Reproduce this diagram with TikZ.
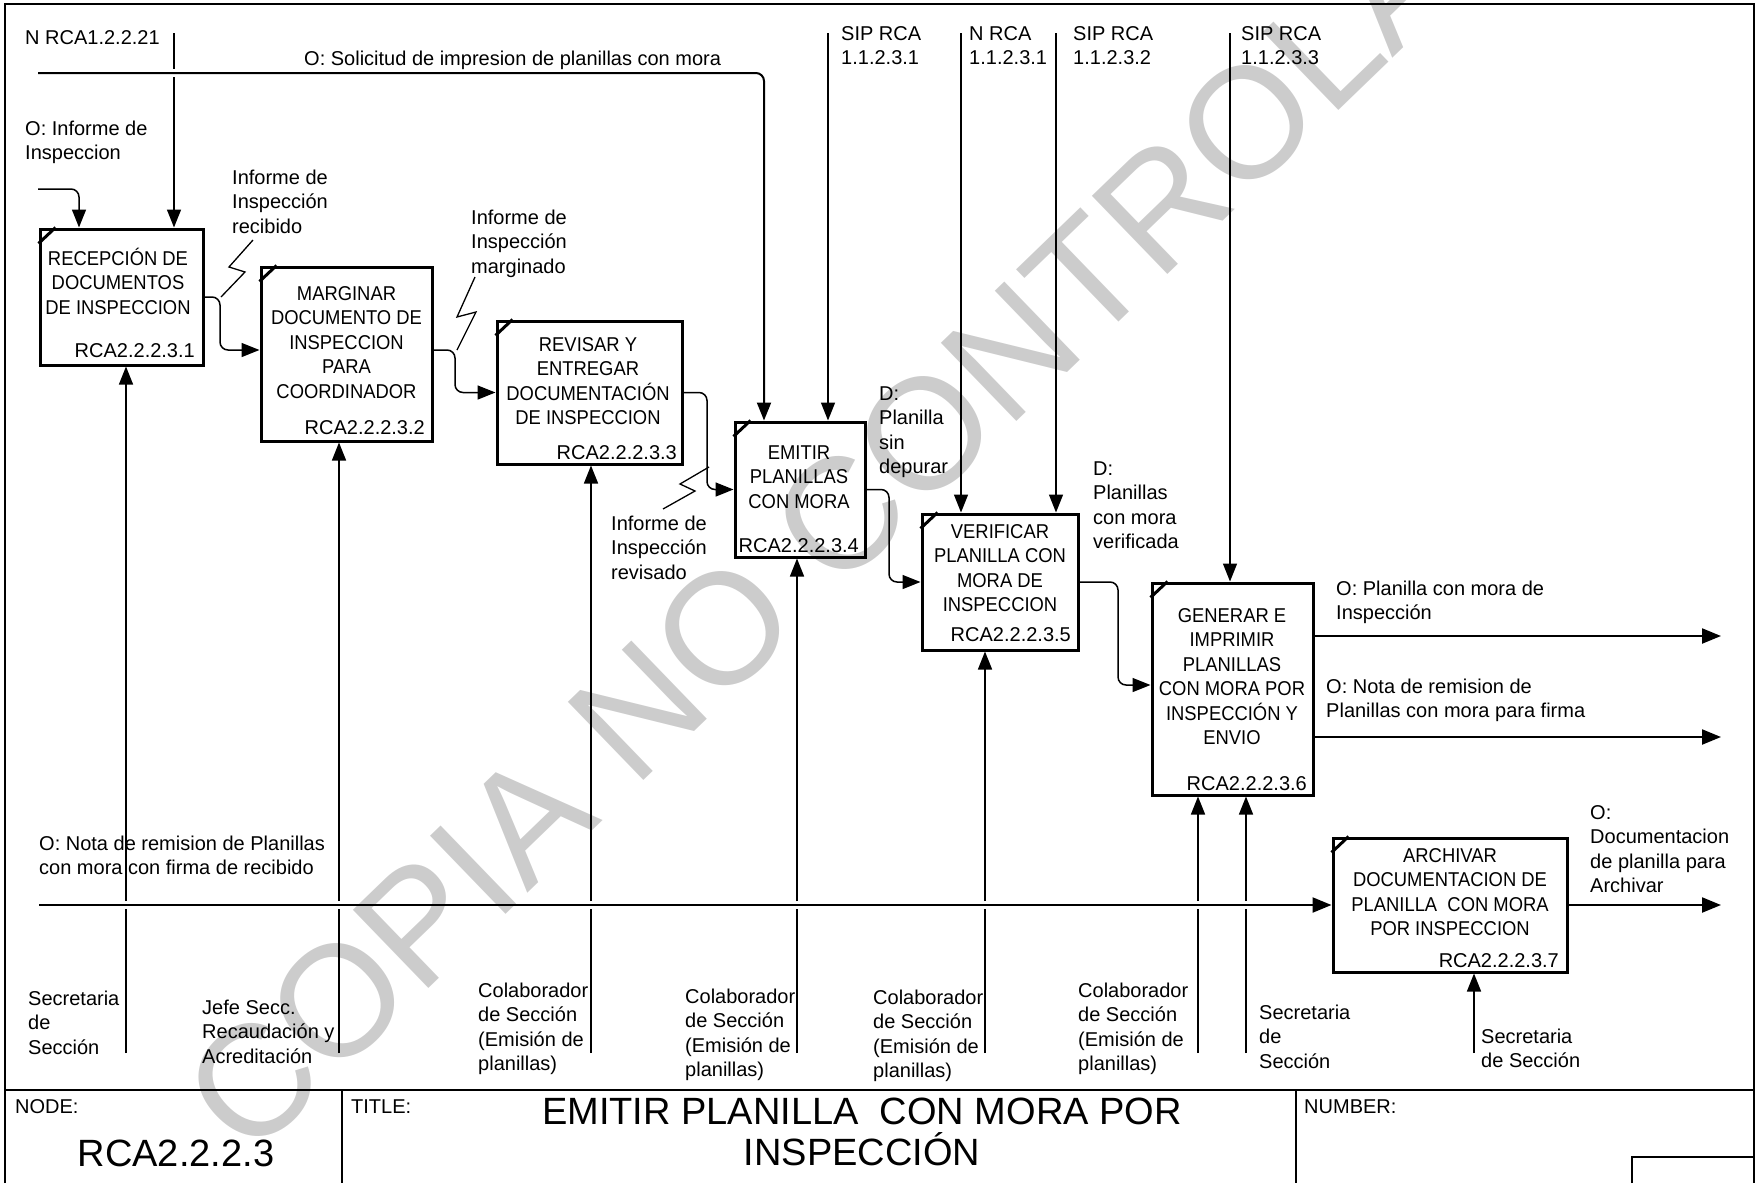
\documentclass[tikz,border=0pt]{standalone}
\usepackage{fontspec}
\setmainfont{Liberation Sans}
\newfontfamily\boxfont[FakeStretch=0.92]{Liberation Sans}
\usetikzlibrary{arrows.meta}
\definecolor{wmgray}{RGB}{204,204,204}
\newcommand\lblsize{\fontsize{20pt}{24.5pt}\selectfont}
\newcommand\titlesize{\fontsize{38pt}{41pt}\selectfont}
\newcommand\wmsize{\fontsize{158pt}{158pt}\selectfont}
\newcommand\tallstrut{\rule{0pt}{19pt}}
\tikzset{
  proc/.style={draw, line width=3pt, inner sep=0pt},
  corner/.style={line width=3pt},
  flow/.style={line width=1.5pt, rounded corners=8pt},
  flowarrow/.style={flow, -{Triangle[length=18pt,width=14pt]}},
  feedline/.style={line width=2.2pt, -{Triangle[length=19pt,width=15pt]}},
  squig/.style={line width=1.3pt},
  frameline/.style={line width=2pt},
  lbl/.style={anchor=north west, inner sep=0pt, align=left, font=\lblsize},
  boxtxt/.style={anchor=north, inner sep=0pt, align=center, font=\boxfont\lblsize},
  code/.style={anchor=base east, inner sep=0pt, font=\lblsize}
}
\begin{document}
\begin{tikzpicture}[x=1pt,y=-1pt]
\useasboundingbox (0,0) rectangle (1760,1183);

% stamp behind the drawing
\node[rotate=44, font=\wmsize, text=wmgray, inner sep=0pt] (stamp) at (900,458) {COPIA NO CONTROLADA};

% sheet frame and title block
\coordinate (frBL) at (5,1183);
\coordinate (frTR) at (1754,4);
\coordinate (frBR) at (1754,1183);
\coordinate (tbL) at (5,1090);
\coordinate (tbR) at (1754,1090);
\coordinate (dvA) at (342,1090);
\coordinate (dvB) at (1296,1090);
\coordinate (nbA) at (1632,1183);
\coordinate (nbB) at (1754,1157);
\draw[frameline] (frBL) |- (frTR) -- (frBR);
\draw[frameline] (tbL) -- (tbR);
\draw[frameline] (dvA) -- (dvA |- frBL);
\draw[frameline] (dvB) -- (dvB |- frBL);
\draw[line width=1.5pt] (nbA) |- (nbB);

% activity boxes
\node[proc, minimum width=163pt, minimum height=136pt] (B1) at (121.5,297) {};
\node[proc, minimum width=171pt, minimum height=174pt] (B2) at (346.5,354) {};
\node[proc, minimum width=185pt, minimum height=143pt] (B3) at (589.5,392.5) {};
\node[proc, minimum width=130pt, minimum height=135pt] (B4) at (800,489.5) {};
\node[proc, minimum width=156pt, minimum height=136pt] (B5) at (1000,582) {};
\node[proc, minimum width=161pt, minimum height=212pt] (B6) at (1232.5,689) {};
\node[proc, minimum width=234pt, minimum height=134pt] (B7) at (1450,905) {};
\foreach \b in {B1,B2,B3,B4,B5,B6,B7}
  \draw[corner] ([yshift=-16pt]\b.north west) -- ([xshift=17pt]\b.north west);

% box titles
\node[boxtxt] (t1) at (118,246) {\tallstrut RECEPCIÓN DE\\DOCUMENTOS\\DE INSPECCION};
\node[boxtxt] (t2) at (346.5,281) {\tallstrut MARGINAR\\DOCUMENTO DE\\INSPECCION\\PARA\\COORDINADOR};
\node[boxtxt] (t3) at (588,332) {\tallstrut REVISAR Y\\ENTREGAR\\DOCUMENTACIÓN\\DE INSPECCION};
\node[boxtxt] (t4) at (799,440) {\tallstrut EMITIR\\PLANILLAS\\CON MORA};
\node[boxtxt] (t5) at (1000,519) {\tallstrut VERIFICAR\\PLANILLA CON\\MORA DE\\INSPECCION};
\node[boxtxt] (t6) at (1232,603) {\tallstrut GENERAR E\\IMPRIMIR\\PLANILLAS\\CON MORA POR\\INSPECCIÓN Y\\ENVIO};
\node[boxtxt] (t7) at (1450,843) {\tallstrut ARCHIVAR\\DOCUMENTACION DE\\PLANILLA\ \ CON MORA\\POR INSPECCION};

% box numbers
\node[code] (k1) at (195,357) {RCA2.2.2.3.1};
\node[code] (k2) at (425,434) {RCA2.2.2.3.2};
\node[code] (k3) at (677,459) {RCA2.2.2.3.3};
\node[code] (k4) at (859,552) {RCA2.2.2.3.4};
\node[code] (k5) at (1071,641) {RCA2.2.2.3.5};
\node[code] (k6) at (1307,790) {RCA2.2.2.3.6};
\node[code] (k7) at (1559,967) {RCA2.2.2.3.7};

% free ends of the arrows
\coordinate (ctlA) at (174,33);
\coordinate (solA) at (38,73);
\coordinate (solB) at (764,73);
\coordinate (sipA) at (828,33);
\coordinate (nrcB) at (961,33);
\coordinate (sipB) at (1056,33);
\coordinate (sipC) at (1230,33);
\coordinate (inA) at (38,189);
\coordinate (inB) at (79,189);
\coordinate (jA) at (220,320);
\coordinate (jB) at (455,370);
\coordinate (jC) at (707,440);
\coordinate (jD) at (889,540);
\coordinate (jE) at (1118,630);
\coordinate (feedA) at (39,905);
\coordinate (outA) at (1721,636);
\coordinate (outB) at (1721,737);
\coordinate (outC) at (1721,905);
\coordinate (mA) at (126,1053);
\coordinate (mB) at (339,1053);
\coordinate (mC) at (591,1053);
\coordinate (mD) at (797,1053);
\coordinate (mE) at (985,1053);
\coordinate (mF) at (1198,1053);
\coordinate (mG) at (1246,1053);
\coordinate (mH) at (1474,1053);

% controls from the top
\draw[flow] (ctlA) -- ([yshift=4pt]ctlA |- solA);
\draw[flowarrow] ([yshift=-4pt]ctlA |- solA) -- (B1.north -| ctlA);
\draw[flowarrow, line width=2pt] (solA) -| (B4.north -| solB);
\draw[flowarrow] (sipA) -- (B4.north -| sipA);
\draw[flowarrow] (nrcB) -- (B5.north -| nrcB);
\draw[flowarrow] (sipB) -- (B5.north -| sipB);
\draw[flowarrow] (sipC) -- (B6.north -| sipC);
\draw[flowarrow] (inA) -| (B1.north -| inB);

% flow between activities
\draw[flowarrow] (B1.east) -| (jA) |- ([yshift=4pt]B2.west);
\draw[flowarrow] ([yshift=4pt]B2.east) -| (jB) |- (B3.west);
\draw[flowarrow] (B3.east) -| (jC) |- (B4.west);
\draw[flowarrow] (B4.east) -| (jD) |- (B5.west);
\draw[flowarrow] (B5.east) -| (jE) |- ([yshift=4pt]B6.west);

% outputs
\draw[feedline] ([yshift=53pt]B6.east) -- (outA);
\draw[feedline] ([yshift=-48pt]B6.east) -- (outB);
\draw[feedline] (B7.east) -- (outC);
\draw[feedline] (feedA) -- (B7.west);

% mechanisms from below, broken where they cross the long line
\foreach \m/\b in {mA/B1, mB/B2, mC/B3, mD/B4, mE/B5, mF/B6, mG/B6} {
  \draw[flow] (\m) -- ([yshift=-4pt]\m |- feedA);
  \draw[flowarrow] ([yshift=4pt]\m |- feedA) -- (\b.south -| \m);
}
\draw[flowarrow] (mH) -- (B7.south -| mH);

% label leaders
\coordinate (sqA) at (221,297);
\coordinate (sqB) at (457,350);
\coordinate (sqC) at (709,467);
\draw[squig] (sqA) -- ++(24,-25) -- ++(-16,-5) -- ++(24,-27);
\draw[squig] (sqB) -- ++(19,-38) -- ++(-19,5) -- ++(18,-40);
\draw[squig] (sqC) -- ++(-29,17) -- ++(15,7) -- ++(-32,18);

% arrow labels
\node[lbl] (lN) at (25,25) {\tallstrut N RCA1.2.2.21};
\node[lbl] (lSol) at (304,46) {\tallstrut O: Solicitud de impresion de planillas con mora};
\node[lbl] (lSipA) at (841,21) {\tallstrut SIP RCA\\1.1.2.3.1};
\node[lbl] (lNrc) at (969,21) {\tallstrut N RCA\\1.1.2.3.1};
\node[lbl] (lSipB) at (1073,21) {\tallstrut SIP RCA\\1.1.2.3.2};
\node[lbl] (lSipC) at (1241,21) {\tallstrut SIP RCA\\1.1.2.3.3};
\node[lbl] (lIn) at (25,116) {\tallstrut O: Informe de\\Inspeccion};
\node[lbl] (lRec) at (232,165) {\tallstrut Informe de\\Inspección\\recibido};
\node[lbl] (lMar) at (471,205) {\tallstrut Informe de\\Inspección\\marginado};
\node[lbl] (lRev) at (611,511) {\tallstrut Informe de\\Inspección\\revisado};
\node[lbl] (lSin) at (879,381) {\tallstrut D:\\Planilla\\sin\\depurar};
\node[lbl] (lVer) at (1093,456) {\tallstrut D:\\Planillas\\con mora\\verificada};
\node[lbl] (lOutA) at (1336,576) {\tallstrut O: Planilla con mora de\\Inspección};
\node[lbl] (lOutB) at (1326,674) {\tallstrut O: Nota de remision de\\Planillas con mora para firma};
\node[lbl] (lOutC) at (1590,800) {\tallstrut O:\\Documentacion\\de planilla para\\Archivar};
\node[lbl] (lFeed) at (39,831) {\tallstrut O: Nota de remision de Planillas\\con mora con firma de recibido};
\node[lbl] (lmA) at (28,986) {\tallstrut Secretaria\\de\\Sección};
\node[lbl] (lmB) at (202,995) {\tallstrut Jefe Secc.\\Recaudación y\\Acreditación};
\node[lbl] (lmC) at (478,978) {\tallstrut Colaborador\\de Sección\\(Emisión de\\planillas)};
\node[lbl] (lmD) at (685,984) {\tallstrut Colaborador\\de Sección\\(Emisión de\\planillas)};
\node[lbl] (lmE) at (873,985) {\tallstrut Colaborador\\de Sección\\(Emisión de\\planillas)};
\node[lbl] (lmF) at (1078,978) {\tallstrut Colaborador\\de Sección\\(Emisión de\\planillas)};
\node[lbl] (lmG) at (1259,1000) {\tallstrut Secretaria\\de\\Sección};
\node[lbl] (lmH) at (1481,1024) {\tallstrut Secretaria\\de Sección};

% title block texts
\node[lbl] (hNode) at (15,1094) {\tallstrut NODE:};
\node[lbl] (hTitle) at (351,1094) {\tallstrut TITLE:};
\node[lbl] (hNum) at (1304,1094) {\tallstrut NUMBER:};
\node[font=\titlesize, inner sep=0pt] (hCode) at (176,1153) {RCA2.2.2.3};
\node[font=\titlesize, inner sep=0pt, align=center] (hHead) at (862,1131.5) {EMITIR PLANILLA\ \ CON MORA POR\\INSPECCIÓN};
\end{tikzpicture}
\end{document}
